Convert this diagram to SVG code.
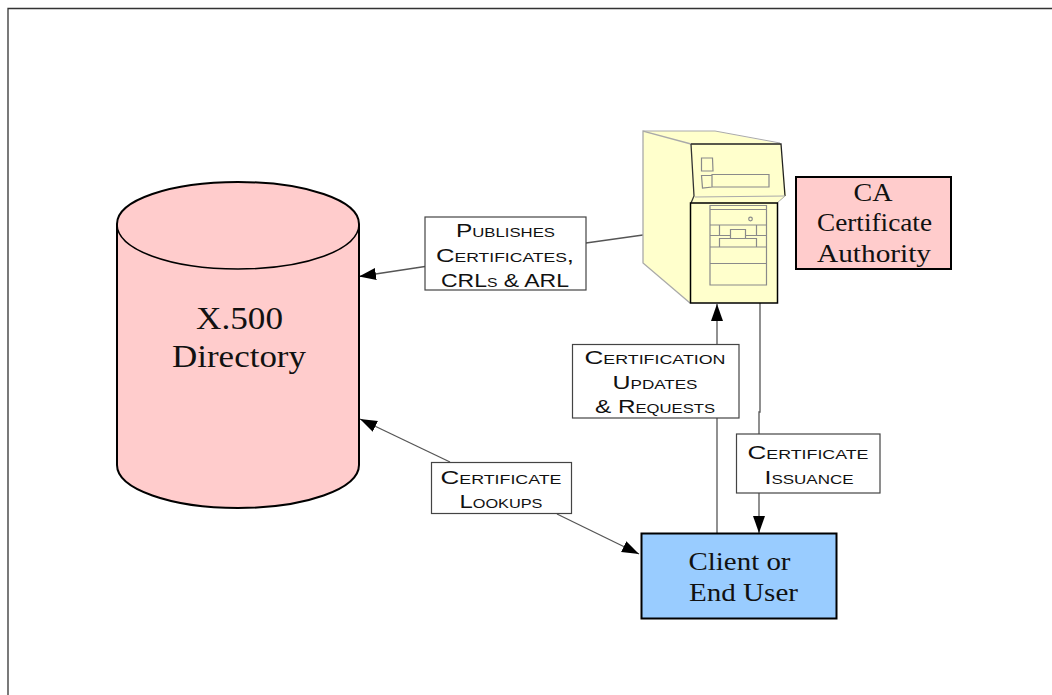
<svg xmlns="http://www.w3.org/2000/svg" width="1052" height="695" viewBox="0 0 1052 695">
<style>
.lb{fill:#fff;stroke:#444;stroke-width:1.2}
.sc{font-family:"Liberation Sans",Arial,sans-serif;font-variant:small-caps;font-size:19px;fill:#111;text-anchor:middle}
.sf{font-family:"Liberation Serif","Times New Roman",serif;fill:#111;text-anchor:middle}
.g{stroke:#8a8a8a;stroke-width:1.2;fill:none}
.c{stroke:#555;stroke-width:1.3;fill:none}
</style>
<defs>
<marker id="a" markerUnits="userSpaceOnUse" markerWidth="18" markerHeight="14" refX="17" refY="6" orient="auto"><path d="M0 0L17 6L0 12z" fill="#000"/></marker>
</defs>
<rect width="1052" height="695" fill="#fff"/>
<path d="M8 695V8.500H1052" fill="none" stroke="#333" stroke-width="1.300"/>
<g id="connectors">
<path class="c" d="M643 235L586 243"/>
<path class="c" d="M425 266.500L359 276.500" marker-end="url(#a)"/>
<path class="c" d="M717 533V418"/>
<path class="c" d="M717 344V304" marker-end="url(#a)"/>
<path class="c" d="M760 303V412H759V434"/>
<path class="c" d="M759 493V533" marker-end="url(#a)"/>
<path class="c" d="M450 462L360 419" marker-end="url(#a)"/>
<path class="c" d="M557 514L639 554" marker-end="url(#a)"/>
</g>
<g id="directory">
<path d="M117 224V465C117 489 171 508 238 508S359 489 359 465V224C359 200 305 182 238 182S117 200 117 224Z" fill="#ffcccc" stroke="#000" stroke-width="2"/>
<path d="M117 224C117 250 171 269 238 269S359 250 359 224" fill="none" stroke="#000" stroke-width="1.500"/>
<text class="sf" font-size="31" x="239.500" y="329" textLength="87" lengthAdjust="spacingAndGlyphs">X.500</text>
<text class="sf" font-size="31" x="239" y="367" textLength="134" lengthAdjust="spacingAndGlyphs">Directory</text>
</g>
<g id="ca-server">
<path d="M643 131H715L781 144L786 196L777 203V303H690L643 263Z" fill="#ffffcc"/>
<path d="M690 303L643 263V131L691 144" fill="none" stroke="#aaa" stroke-width="1.300"/>
<path d="M643 131H715L780 143" fill="none" stroke="#aaa" stroke-width="1"/>
<path d="M691 144H781L783 170L785 196" fill="none" stroke="#222" stroke-width="1.300"/>
<path d="M691 144L694 196L691 203" fill="none" stroke="#333" stroke-width="1.300"/>
<path d="M695 197L785 196L777 203" fill="none" stroke="#aaa" stroke-width="1"/>
<rect x="690.500" y="203" width="87" height="100" fill="#ffffcc" stroke="#000" stroke-width="1.500"/>
<path class="g" d="M701.500 158H712.500L713 171H701.500ZM701.500 175.500H712V187L702.500 188ZM712 174.500H769V187H712Z"/>
<path class="g" d="M710 205.500H766.500V285H710ZM710 209.500H766.500M710 225H766.500M719.500 225V235.500M756.500 225V235.500M710 235.500H730.500V229.500H745.500V235.500H766.500M719.500 247V238.500H730.500V235.500M756.500 247V238.500H745.500V235.500M730.500 238.500H745.500M710 247H766.500M710 263.500H766.500"/>
<circle class="g" cx="750.500" cy="219" r="1.800"/>
</g>
<g id="ca-label">
<rect x="796" y="177" width="155" height="92" fill="#ffcccc" stroke="#000" stroke-width="2"/>
<text class="sf" font-size="26" x="873" y="201" textLength="39" lengthAdjust="spacingAndGlyphs">CA</text>
<text class="sf" font-size="26" x="874.500" y="231" textLength="115" lengthAdjust="spacingAndGlyphs">Certificate</text>
<text class="sf" font-size="26" x="874" y="262" textLength="114" lengthAdjust="spacingAndGlyphs">Authority</text>
</g>
<g id="client">
<rect x="641.500" y="533.500" width="195" height="85" fill="#99ccff" stroke="#000" stroke-width="2"/>
<text class="sf" font-size="26" x="739.500" y="570" textLength="102" lengthAdjust="spacingAndGlyphs">Client or</text>
<text class="sf" font-size="26" x="743.500" y="601" textLength="109" lengthAdjust="spacingAndGlyphs">End User</text>
</g>
<g id="publishes">
<rect class="lb" x="425" y="217" width="161" height="73"/>
<text class="sc" x="505.500" y="237" textLength="99" lengthAdjust="spacingAndGlyphs">Publishes</text>
<text class="sc" x="505" y="262" textLength="138" lengthAdjust="spacingAndGlyphs">Certificates,</text>
<text class="sc" x="505" y="287" textLength="128" lengthAdjust="spacingAndGlyphs">CRLs &amp; ARL</text>
</g>
<g id="updates">
<rect class="lb" x="572.500" y="344.500" width="166.500" height="73.500"/>
<text class="sc" x="655" y="364" textLength="141" lengthAdjust="spacingAndGlyphs">Certification</text>
<text class="sc" x="655" y="389" textLength="85" lengthAdjust="spacingAndGlyphs">Updates</text>
<text class="sc" x="655" y="413" textLength="120" lengthAdjust="spacingAndGlyphs">&amp; Requests</text>
</g>
<g id="issuance">
<rect class="lb" x="736.500" y="434" width="143.500" height="59"/>
<text class="sc" x="808" y="459" textLength="121" lengthAdjust="spacingAndGlyphs">Certificate</text>
<text class="sc" x="809" y="484" textLength="89" lengthAdjust="spacingAndGlyphs">Issuance</text>
</g>
<g id="lookups">
<rect class="lb" x="431.500" y="462.500" width="140" height="51"/>
<text class="sc" x="501" y="484" textLength="121" lengthAdjust="spacingAndGlyphs">Certificate</text>
<text class="sc" x="501" y="508" textLength="83" lengthAdjust="spacingAndGlyphs">Lookups</text>
</g>
</svg>
